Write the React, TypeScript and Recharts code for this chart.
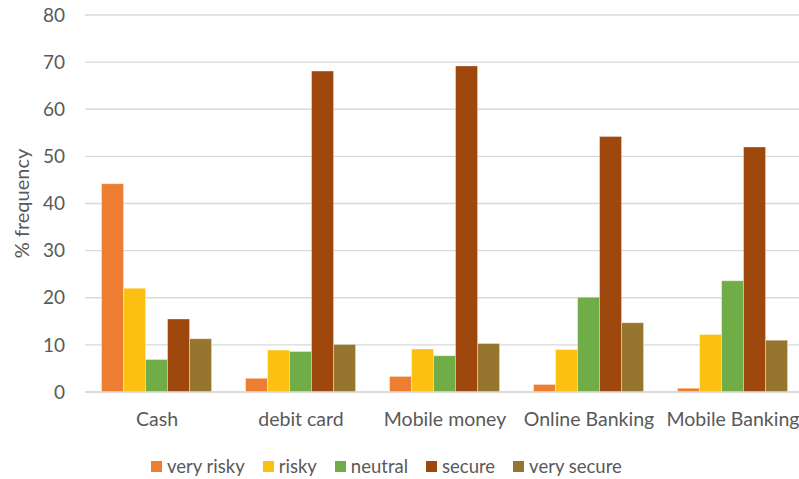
import { BarChart, Bar, XAxis, YAxis, CartesianGrid } from 'recharts'

const categories = ['Cash', 'debit card', 'Mobile money', 'Online Banking', 'Mobile Banking']
const veryRisky = [44.2, 2.9, 3.3, 1.6, 0.8]
const risky = [22.0, 8.9, 9.1, 9.0, 12.2]
const neutral = [6.9, 8.6, 7.7, 20.1, 23.6]
const secure = [15.5, 68.1, 69.2, 54.2, 52.0]
const verySecure = [11.3, 10.1, 10.3, 14.7, 11.0]
const yTicks = [0, 10, 20, 30, 40, 50, 60, 70, 80]

const series = [
  { key: 'veryRisky', name: 'very risky', color: '#ED7D31' },
  { key: 'risky', name: 'risky', color: '#FBC012' },
  { key: 'neutral', name: 'neutral', color: '#70AD47' },
  { key: 'secure', name: 'secure', color: '#9E480E' },
  { key: 'verySecure', name: 'very secure', color: '#96752E' },
]

const data = categories.map((c, i) => ({
  category: c,
  veryRisky: veryRisky[i],
  risky: risky[i],
  neutral: neutral[i],
  secure: secure[i],
  verySecure: verySecure[i],
}))

const FONT = 'Lato, "Noto Sans", sans-serif'
const TEXT = '#595959'

function ChartLegend() {
  return (
    <div style={{ position: 'absolute', left: 151, top: 455, display: 'flex', gap: 18, fontFamily: FONT, fontSize: 18.5, color: TEXT, alignItems: 'center', lineHeight: '22px' }}>
      {series.map(s => (
        <div key={s.key} style={{ display: 'flex', alignItems: 'center' }}>
          <span style={{ width: 11, height: 11, background: s.color, display: 'inline-block', marginRight: 5 }} />
          <span>{s.name}</span>
        </div>
      ))}
    </div>
  )
}

export default function App() {
  return (
    <div style={{ position: 'absolute', left: 0, top: 0, width: 799, height: 479, overflow: 'hidden', background: '#fff' }}>
      <BarChart
        width={813}
        height={479}
        data={data}
        margin={{ top: 15, right: 8, left: 0, bottom: 47 }}
        barCategoryGap="11.5%"
        barGap={0}
      >
        <CartesianGrid vertical={false} stroke="#D9D9D9" strokeWidth={1.3} />
        <XAxis
          dataKey="category"
          height={40}
          tickLine={false}
          axisLine={{ stroke: '#D9D9D9', strokeWidth: 1.3 }}
          tick={{ fill: TEXT, fontSize: 19.5, fontFamily: FONT }}
          tickMargin={14}
          interval={0}
        />
        <YAxis
          width={85}
          domain={[0, 80]}
          ticks={yTicks}
          tickLine={false}
          axisLine={false}
          tickSize={0}
          tickMargin={20}
          tick={{ fill: TEXT, fontSize: 19, fontFamily: FONT }}
          label={{
            value: '% frequency',
            angle: -90,
            position: 'insideLeft',
            offset: 22,
            style: { textAnchor: 'middle', fill: TEXT, fontSize: 20, fontFamily: FONT },
          }}
        />
        {series.map(s => (
          <Bar
            key={s.key}
            dataKey={s.key}
            name={s.name}
            fill={s.color}
            stroke="#ffffff"
            strokeOpacity={0.5}
            strokeWidth={0.7}
            isAnimationActive={false}
          />
        ))}
      </BarChart>
      <ChartLegend />
    </div>
  )
}
